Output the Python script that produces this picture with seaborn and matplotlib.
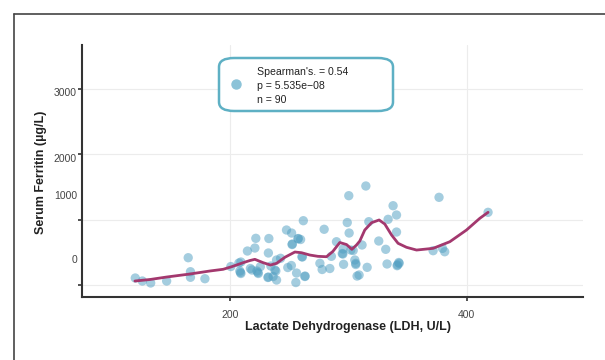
import numpy as np
import pandas as pd
import matplotlib
matplotlib.use("Agg")
import matplotlib.pyplot as plt
import seaborn as sns
from matplotlib.lines import Line2D
from matplotlib.patches import FancyBboxPatch

# ---- data ----
ldh = [120, 126, 133, 146.5, 164.7, 166.6, 166.6, 178.8, 200.7, 207.5,
       208.3, 209.2, 214.7, 217.2, 221, 221.8, 222.7, 223.9, 225.6, 232,
       232.4, 232.8, 234.5, 236.4, 237.9, 239.3, 239.3, 242.7, 247.7, 252,
       252.6, 251.8, 248.8, 256.2, 255.6, 257.7, 259.6, 260.7, 261.9, 263.4,
       275.9, 277.8, 279.5, 284.3, 285.6, 289.9, 294.8, 295.5, 295.9, 299,
       300.3, 300.6, 302, 304, 305.4, 306.2, 307.3, 309, 311.5, 314.7,
       315.8, 317.2, 325.6, 331.5, 332.6, 333.5, 337.7, 340.6, 340.6, 341.1,
       342.8, 376.5, 371.5, 379.4, 381.3, 417.9,
       208.8, 223.5, 209.2, 238.7, 261.1, 257.3, 295.3, 306.2, 341.5, 232.4,
       252.4, 342.5, 263.2, 218.5]
ferritin = [107, 61, 31, 61, 417, 203, 118, 96, 282, 336,
            214, 176, 519, 252, 565, 713, 214, 176, 279, 115,
            489, 710, 290, 130, 229, 76, 382, 408, 840, 794,
            626, 298, 267, 183, 38, 710, 695, 432, 982, 137,
            331, 237, 851, 252, 438, 661, 481, 550, 316, 954,
            1364, 794, 534, 527, 382, 331, 137, 153, 611, 1512,
            270, 967, 672, 545, 321, 1003, 1211, 1069, 809, 295,
            331, 1339, 524, 560, 508, 1110,
            191, 191, 351, 214, 428, 706, 473, 313, 308, 122,
            618, 344, 130, 229]

smooth_x = [119.7, 132.4, 146.5, 166.1, 183, 194.2, 201.3, 211.1, 216.8, 221,
            228, 234.2, 239.3, 246.3, 254.8, 260.4, 267.4, 274.2, 281.5, 286.8,
            292.7, 298.4, 302.9, 306.8, 309.6, 313.8, 319.5, 325.9, 330.7, 336.4,
            341.9, 349, 357.5, 371.5, 385.6, 399.7, 410.9, 417.9]
smooth_y = [61, 84, 122, 168, 214, 240, 279, 341, 374, 392,
            341, 305, 331, 423, 504, 493, 458, 438, 432, 512,
            649, 618, 545, 611, 672, 840, 951, 993, 931, 764,
            637, 576, 534, 560, 661, 840, 1018, 1110]

ytick_marks = [0, 1000, 2000, 3000]
ytick_labels = ["0", "1000", "2000", "3000"]
ytick_label_pos = [382, 1359, 1924, 2932]
xticks = [200, 400]
xtick_labels = ["200", "400"]

stats_lines = ["Spearman's. = 0.54", "p = 5.535e\u221208", "n = 90"]

df = pd.DataFrame({"ldh": ldh, "ferritin": ferritin})
sm = pd.DataFrame({"x": smooth_x, "y": smooth_y})

sns.set_style("white")
plt.rcParams["font.family"] = ["Liberation Sans", "DejaVu Sans"]

fig = plt.figure(figsize=(6.05, 3.6), dpi=100)
ax = fig.add_axes([0.1355, 0.175, 0.828, 0.70])

point_color = "#529fc2"
line_color = "#a3386e"

sns.scatterplot(data=df, x="ldh", y="ferritin", ax=ax, s=45, color=point_color,
                alpha=0.52, edgecolor="none", zorder=3)
sns.lineplot(data=sm, x="x", y="y", ax=ax, color=line_color, lw=2.0,
             sort=False, estimator=None, zorder=4)

ax.set_xlim(75, 498)
ax.set_ylim(-183, 3665)

# grid
ax.set_yticks(ytick_marks)
ax.set_yticklabels([""] * len(ytick_marks))
ax.set_xticks(xticks)
ax.set_xticklabels([])
ax.grid(True, color="#ececec", lw=0.8, zorder=0)
ax.set_axisbelow(True)

for sp in ["top", "right"]:
    ax.spines[sp].set_visible(False)
for sp in ["left", "bottom"]:
    ax.spines[sp].set_color("#333333")
    ax.spines[sp].set_linewidth(1.5)

ax.tick_params(axis="both", which="major", length=3, width=1.2, color="#333333",
               direction="out", left=True, bottom=True)

# displaced y tick labels
trans_y = matplotlib.transforms.blended_transform_factory(ax.transAxes, ax.transData)
for lab, pos in zip(ytick_labels, ytick_label_pos):
    ax.text(-0.01, pos, lab, transform=trans_y, ha="right", va="center",
            fontsize=7.5, color="#444444")

trans_x = matplotlib.transforms.blended_transform_factory(ax.transData, ax.transAxes)
for lab, pos in zip(xtick_labels, xticks):
    ax.text(pos, -0.07, lab, transform=trans_x, ha="center", va="center",
            fontsize=7.5, color="#444444")

ax.set_xlabel("")
ax.set_ylabel("")
fig.text(0.575, 0.092, "Lactate Dehydrogenase (LDH, U/L)", ha="center", va="center",
         fontsize=9, fontweight="bold", color="#222222")
fig.text(0.067, 0.522, "Serum Ferritin (\u00b5g/L)", ha="center", va="center",
         rotation=90, fontsize=9, fontweight="bold", color="#222222")

# stats box
box = FancyBboxPatch((219 / 605, 1 - 111 / 360), (393 - 219) / 605, (111 - 58) / 360,
                     boxstyle="round,pad=0,rounding_size=0.025",
                     transform=fig.transFigure, facecolor="white",
                     edgecolor="#5eb0c4", lw=1.8, zorder=10)
fig.add_artist(box)
fig.add_artist(Line2D([236 / 605], [1 - 84 / 360], marker="o", markersize=6.5,
                      color="#8cc3d8", transform=fig.transFigure, zorder=11))
for i, line in enumerate(stats_lines):
    fig.text(257 / 605, 1 - (72 + 14 * i) / 360, line, ha="left", va="center",
             fontsize=7.6, color="#222222", zorder=11)

# outer frame (top and left edges of screenshot)
fig.add_artist(Line2D([14 / 605, 1.0], [1 - 14 / 360, 1 - 14 / 360],
                      color="#444444", lw=1.2, transform=fig.transFigure))
fig.add_artist(Line2D([14 / 605, 14 / 605], [0.0, 1 - 14 / 360],
                      color="#444444", lw=1.2, transform=fig.transFigure))

fig.savefig("out.png", dpi=100, facecolor="white")
